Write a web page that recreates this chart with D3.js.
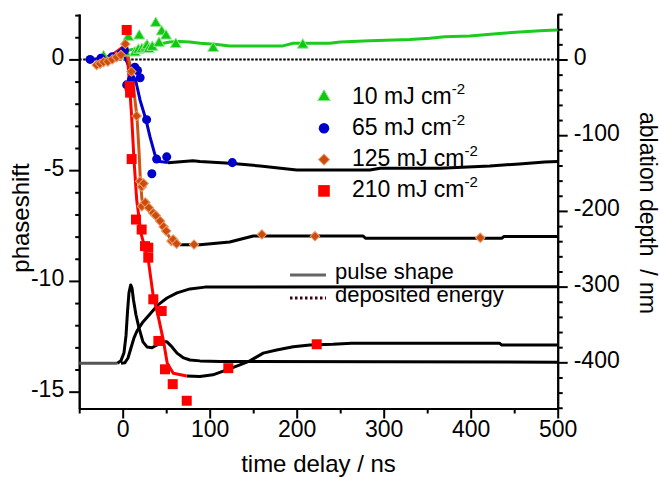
<!DOCTYPE html>
<meta charset="utf-8">
<style>
  body { margin: 0; background: #fff; }
  svg text { font-family: "Liberation Sans", Arial, Helvetica, sans-serif; fill: #000; }
</style>
<svg width="660" height="477"></svg>
<script src="https://cdn.jsdelivr.net/npm/d3@7"></script>
<script>

    // measured points: [time delay (ns), phaseshift]
    var green10 = [[-22, 0.13], [-5, 0.15], [3, 0.3], [6.4, 1.0], [14, 0.3], [18, 0.42], [19, 1.06],
        [22, 0.45], [26, 0.52], [28, 0.62], [30, 0.45], [34, 0.55], [38, 1.63], [41.7, 0.73],
        [44.8, 1.25], [49.8, 1.06], [61, 0.68], [104, 0.5], [207, 0.65]];
    var blue65 = [[-37.5, 0], [-25, 0.05], [-12, 0.12], [-2, 0.28], [2, 0.4], [4.6, -1.15], [10, -0.92],
        [14, -0.35], [17, -0.5], [20, -0.83], [27.5, -2.72], [33.5, -5.16], [39, -4.5], [50.6, -4.4],
        [126, -4.66]];
    var orange125 = [[-30, -0.25], [-26, -0.2], [-22, -0.12], [-17, -0.1], [-12, 0], [-7, 0.1], [-2, 0.2],
        [3, 0.7], [10, -0.55], [16, -2.55], [20, -5.5], [22, -5.75], [22, -6.63], [24, -5.6], [26, -6.46],
        [30, -6.7], [35, -6.93], [38, -7.05], [43, -7.3], [47, -7.55], [50, -7.75], [56, -8.2], [58, -8.13],
        [62, -8.32], [82, -8.36], [160, -7.9], [221, -7.98], [411, -8.05]];
    var red210 = [[4.6, 1.33], [8, -1.2], [8.5, -1.5], [10.3, -4.5], [15.3, -7.23], [21.8, -7.68],
        [25.6, -8.43], [29.4, -8.5], [29.4, -8.95], [35.2, -10.83], [44.8, -11.36], [41, -12.71],
        [48.6, -13.99], [57.5, -14.66], [73.6, -15.41], [121.4, -13.94], [223, -12.86]];

    // fitted curves (coloured part)
    var greenFit = [[-26, 0.07], [-9, 0.2], [2.6, 0.34], [8.4, 0.43], [20, 0.52], [31, 0.61], [43, 0.7],
        [54, 0.79], [66, 0.81], [77, 0.79], [89, 0.73], [106, 0.68], [123, 0.61], [184, 0.61], [196, 0.73],
        [238, 0.73], [250, 0.79], [284, 0.84], [330, 0.9], [353, 0.96], [370, 1.02], [399, 1.06],
        [433, 1.17], [456, 1.24], [485, 1.3], [500, 1.33]];
    var blueFit = [[-37.6, -0.02], [-14.6, 0.11], [-0.8, 0.29], [4.9, -0.11], [9.5, -0.56], [15.3, -1.02],
        [19.9, -1.83], [26.8, -2.73], [31.4, -3.5], [37.1, -4.31], [42.8, -4.61], [52, -4.66]];
    var orangeFit = [[-29.5, -0.25], [-20.3, -0.11], [-12.3, -0.02], [-5.4, 0.11], [-0.8, 0.34], [2.6, 0.73],
        [7.2, -0.02], [10.7, -0.7], [14.1, -1.83], [16.4, -2.6], [18.7, -4.09], [20.4, -5.53], [22.2, -6.34],
        [25.6, -6.61], [31.4, -6.79], [37.1, -7.07], [42.8, -7.34], [48.6, -7.7], [54.3, -8.06],
        [60.1, -8.28], [65.8, -8.37]];
    var redFit = [[-26, -0.02], [-12.3, 0.2], [0.3, 0.56], [3.8, 0.96], [6.4, -0.33], [10.3, -2.58],
        [13, -4.54], [16.1, -6.34], [21, -7.85], [29.4, -9.05], [35.2, -10.71], [40.9, -11.61],
        [46.6, -12.66], [51.2, -13.72], [58.1, -14.17], [73.5, -14.29]];

    // black continuations (late times)
    var blueLate = [[52, -4.66], [80.8, -4.58], [88.8, -4.61], [123, -4.69], [158, -4.81], [200, -4.99],
        [284, -4.99], [296, -4.91], [365, -4.91], [422, -4.81], [456, -4.72], [485, -4.63], [500, -4.61]];
    var orangeLate = [[65.8, -8.37], [88.8, -8.37], [123, -8.24], [150, -7.97], [276, -7.97], [279, -8.07],
        [436, -8.07], [438, -8.0], [500, -8.0]];
    var redLate = [[73.5, -14.29], [88.8, -14.32], [103.7, -14.24], [119.5, -14.02], [134.7, -13.79],
        [146.2, -13.61], [161.5, -13.26], [176.9, -13.12], [196, -12.97], [215.2, -12.89], [241.6, -12.86],
        [263, -12.81], [433, -12.81], [435.7, -12.89], [500, -12.89]];

    // pulse shape and deposited energy (drawn on the phaseshift scale)
    var pulseBase = [[-50, -13.72], [-6, -13.72]];
    var pulse = [[-6, -13.72], [-2, -13.6], [1.5, -13.24], [3.8, -12.47], [5.6, -11.35], [7.2, -10.54],
        [9.2, -10.18], [10.7, -10.32], [12.4, -10.86], [15.3, -11.54], [18.7, -12.12], [23.3, -12.75],
        [27.9, -12.98], [33.6, -13.02], [39.4, -12.89], [45.2, -12.75], [50.9, -12.75], [55.5, -12.93],
        [62.4, -13.26], [69.3, -13.46], [77.3, -13.57], [88.8, -13.61], [112, -13.64], [500, -13.67]];
    var energy = [[-2, -13.72], [2.6, -13.69], [6.1, -13.48], [9.5, -13.03], [13, -12.57], [16.4, -12.26],
        [23.3, -11.85], [31.4, -11.49], [40.6, -11.08], [50.9, -10.77], [62.4, -10.54], [77.3, -10.36],
        [94.5, -10.28], [500, -10.26]];

    var xTicks = [0, 100, 200, 300, 400, 500],
        leftTicks = [-15, -10, -5, 0],
        rightTicks = [-400, -300, -200, -100, 0];

    var legendLabels = ["10", "65", "125", "210"];

    var svg = d3.select("svg");

    var x = d3.scaleLinear().domain([-50, 500]).range([79.2, 557.7]);
    var yL = d3.scaleLinear().domain([-15.76, 2.05]).range([408.5, 14]);
    var yR = d3.scaleLinear().domain([-461, 60.1]).range([408.5, 14]);

    function styleAxis(g) {
        g.attr("font-size", 23).attr("font-family", null);
        g.selectAll("path, line").attr("stroke", "#000").attr("stroke-width", 2);
        g.selectAll("text").attr("fill", "#000");
    }
    var fmt = function(d) { return String(d); };

    // bottom axis
    svg.append("g").attr("transform", "translate(0,408.5)")
        .call(d3.axisBottom(x).tickValues(d3.range(-50, 501, 50).filter(function(d) { return d % 100 !== 0; }))
            .tickSize(5).tickSizeOuter(0).tickFormat(""))
        .call(styleAxis);
    svg.append("g").attr("transform", "translate(0,408.5)")
        .call(d3.axisBottom(x).tickValues(xTicks).tickSize(10).tickSizeOuter(0).tickPadding(2).tickFormat(fmt))
        .call(styleAxis)
        .call(function(g) { g.selectAll("text").attr("dy", "0.71em").attr("y", 12); });

    // left axis
    svg.append("g").attr("transform", "translate(79.2,0)")
        .call(d3.axisLeft(yL).tickValues(d3.range(-15, 3, 1).filter(function(d) { return d % 5 !== 0; }))
            .tickSize(4).tickSizeOuter(0).tickFormat(""))
        .call(styleAxis);
    svg.append("g").attr("transform", "translate(79.2,0)")
        .call(d3.axisLeft(yL).tickValues(leftTicks).tickSize(10).tickSizeOuter(0).tickPadding(5).tickFormat(fmt))
        .call(styleAxis)
        .call(function(g) { g.selectAll("text").attr("dy", "0.22em"); });

    // right axis
    svg.append("g").attr("transform", "translate(557.7,0)")
        .call(d3.axisRight(yR).tickValues(d3.range(-460, 61, 20).filter(function(d) { return d % 100 !== 0; }))
            .tickSize(5).tickSizeOuter(0).tickFormat(""))
        .call(styleAxis);
    svg.append("g").attr("transform", "translate(557.7,0)")
        .call(d3.axisRight(yR).tickValues(rightTicks).tickSize(10).tickSizeOuter(0).tickPadding(6).tickFormat(fmt))
        .call(styleAxis)
        .call(function(g) { g.selectAll("text").attr("dy", "0.22em"); });

    // zero line
    svg.append("line")
        .attr("x1", x(-50)).attr("x2", x(500)).attr("y1", yL(0)).attr("y2", yL(0))
        .attr("stroke", "#000").attr("stroke-width", 2).attr("stroke-dasharray", "2.5,1.5");

    var line = d3.line().x(function(d) { return x(d[0]); }).y(function(d) { return yL(d[1]); });

    function drawLine(data, color, w) {
        svg.append("path").datum(data)
            .attr("d", line).attr("fill", "none")
            .attr("stroke", color).attr("stroke-width", w || 3)
            .attr("stroke-linejoin", "round");
    }

    drawLine(pulseBase, "#555");
    drawLine(energy, "#000");
    drawLine(pulse, "#000");
    drawLine(blueLate, "#000");
    drawLine(orangeLate, "#000");
    drawLine(redLate, "#000");

    drawLine(greenFit, "#1ccc1c");
    drawLine(blueFit, "#0000cc");
    drawLine(redFit, "#ff0000");
    drawLine(orangeFit, "#cc5511");

    var series = [
        {data: green10, type: d3.symbolTriangle, size: 52, fill: "#11c811", stroke: "#8fe88f", rot: 0},
        {data: blue65, type: d3.symbolCircle, size: 64, fill: "#0000cc", stroke: "none", rot: 0},
        {data: red210, type: d3.symbolSquare, size: 100, fill: "#ff0000", stroke: "none", rot: 0},
        {data: orange125, type: d3.symbolSquare, size: 45, fill: "#cc4c0c", stroke: "#ec9a6a", rot: 45}
    ];

    series.forEach(function(s) {
        svg.append("g").selectAll("path")
            .data(s.data)
            .enter().append("path")
            .attr("d", d3.symbol().type(s.type).size(s.size))
            .attr("transform", function(d) {
                return "translate(" + x(d[0]) + "," + yL(d[1]) + ") rotate(" + s.rot + ")";
            })
            .attr("fill", s.fill)
            .attr("stroke", s.stroke)
            .attr("stroke-width", 1);
    });

    // legend (fluence)
    var legendSyms = [series[0], series[1], series[3], series[2]];
    var leg = svg.append("g");
    legendLabels.forEach(function(lab, i) {
        var s = legendSyms[i], cy = 97 + i * 31.3;
        leg.append("path")
            .attr("d", d3.symbol().type(s.type).size(s.size * 1.35))
            .attr("transform", "translate(324," + cy + ") rotate(" + s.rot + ")")
            .attr("fill", s.fill).attr("stroke", s.stroke).attr("stroke-width", 1);
        var t = leg.append("text").attr("x", 352).attr("y", cy + 6.5).attr("font-size", 23);
        t.append("tspan").text(lab + " mJ cm");
        t.append("tspan").attr("font-size", 15).attr("dy", -10).text("-2");
    });

    // legend (pulse / energy)
    svg.append("line").attr("x1", 290).attr("x2", 326).attr("y1", 275).attr("y2", 275)
        .attr("stroke", "#666").attr("stroke-width", 3);
    svg.append("text").attr("x", 335).attr("y", 279).attr("font-size", 22).text("pulse shape");
    svg.append("line").attr("x1", 290).attr("x2", 326).attr("y1", 298).attr("y2", 298)
        .attr("stroke", "#3a0010").attr("stroke-width", 3).attr("stroke-dasharray", "2.5,2.5");
    svg.append("text").attr("x", 335).attr("y", 302).attr("font-size", 22).text("deposited energy");

    // axis titles
    svg.append("text").attr("x", 318.5).attr("y", 472).attr("font-size", 24)
        .attr("text-anchor", "middle").text("time delay / ns");
    svg.append("text").attr("transform", "translate(29,218) rotate(-90)").attr("font-size", 24)
        .attr("text-anchor", "middle").text("phaseshift");
    svg.append("text").attr("transform", "translate(640,213) rotate(90)").attr("font-size", 23)
        .attr("text-anchor", "middle").style("white-space", "pre").text("ablation depth  / nm");

</script>
